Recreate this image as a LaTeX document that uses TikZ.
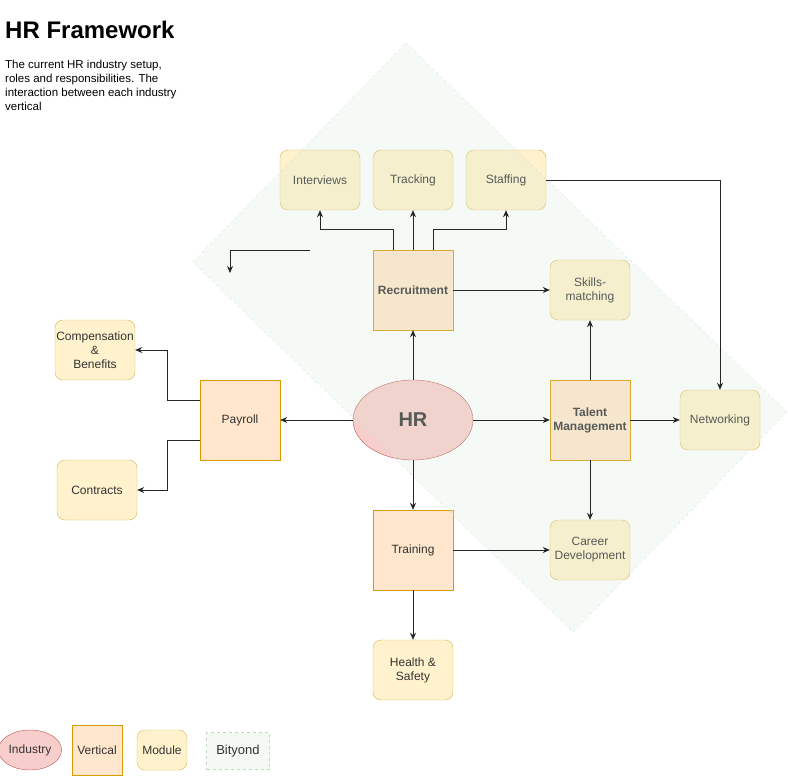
\documentclass[tikz,border=0pt]{standalone}
\usepackage{fontspec}
\setmainfont{Liberation Sans}
\usetikzlibrary{calc, shapes, positioning, arrows.meta}
\definecolor{industry fill}{HTML}{F8CECC}
\definecolor{industry line}{HTML}{B85450}
\definecolor{vertical fill}{HTML}{FFE6CC}
\definecolor{vertical line}{HTML}{D79B00}
\definecolor{module fill}{HTML}{FFF2CC}
\definecolor{module line}{HTML}{D6B656}
\definecolor{bityond fill}{HTML}{D5E8D4}
\definecolor{bityond line}{HTML}{C3DCC1}
\definecolor{text grey}{HTML}{333333}

\begin{document}
\begin{tikzpicture}[x=1pt, y=-1pt, font=\fontsize{12}{14}\selectfont,
    module/.style={draw=module line, fill=module fill, rounded corners=8pt, minimum width=80pt, minimum height=60pt, align=center, text=text grey, inner sep=1pt},
    vertical/.style={draw=vertical line, fill=vertical fill, minimum width=80pt, minimum height=80pt, align=center, text=text grey, inner sep=1pt},
    industry/.style={draw=industry line, fill=industry fill, ellipse, minimum width=120pt, minimum height=80pt, text=text grey, inner sep=1pt},
    link/.style={-{Stealth[length=7pt,width=6pt]}, line width=0.9pt, draw=black!85}]
    \useasboundingbox (0,0) rectangle (788,776);
    % title and description
    \node[anchor=west, inner sep=0pt, font=\fontsize{24}{28}\selectfont\bfseries] (title) at (5,30) {HR Framework};
    \node[anchor=north west, inner sep=0pt, align=left, font=\fontsize{11.5}{14}\selectfont] (desc) at (5,60) {The current HR industry setup,\\roles and responsibilities. The\\interaction between each industry\\vertical};
    % verticals and industry
    \node[industry, font=\fontsize{20}{24}\selectfont\bfseries] (hr) at (413,420) {HR};
    \node[vertical, font=\fontsize{12}{14}\selectfont\bfseries] (recruit) at (413,290) {Recruitment};
    \node[vertical] (payroll) at (240,420) {Payroll};
    \node[vertical, font=\fontsize{12}{14}\selectfont\bfseries] (talent) at (590,420) {Talent\\Management};
    \node[vertical] (training) at (413,550) {Training};
    % modules
    \node[module] (interviews) at (320,180) {Interviews};
    \node[module] (tracking) at (413,180) {Tracking};
    \node[module] (staffing) at (506,180) {Staffing};
    \node[module] (skills) at (590,290) {Skills-\\matching};
    \node[module] (comp) at (95,350) {Compensation\\\&\\Benefits};
    \node[module] (contracts) at (97,490) {Contracts};
    \node[module] (network) at (720,420) {Networking};
    \node[module] (career) at (590,550) {Career\\Development};
    \node[module] (health) at (413,670) {Health \&\\Safety};
    % bityond area
    \fill[bityond fill, fill opacity=0.22] (406,43) -- (787,412) -- (573,632) -- (193,262) -- cycle;
    \draw[bityond line, dashed, draw opacity=0.6] (406,43) -- (787,412) -- (573,632) -- (193,262) -- cycle;
    % connectors
    \draw[link] (hr) -- (recruit);
    \draw[link] (hr) -- (payroll);
    \draw[link] (hr) -- (talent);
    \draw[link] (hr) -- (training);
    \draw[link] ($(recruit.north)+(-20,0)$) -- ++(0,-20) -| (interviews.south);
    \draw[link] (recruit) -- (tracking);
    \draw[link] ($(recruit.north)+(20,0)$) -- ++(0,-20) -| (staffing.south);
    \draw[link] (recruit) -- (skills);
    \draw[link] (staffing.east) -| (network.north);
    \draw[link] ($(payroll.west)+(0,-20)$) -- ++(-32,0) |- (comp.east);
    \draw[link] ($(payroll.west)+(0,20)$) -- ++(-32,0) |- (contracts.east);
    \draw[link] (talent) -- (skills);
    \draw[link] (talent) -- (network);
    \draw[link] (talent) -- (career);
    \draw[link] (training) -- (career);
    \draw[link] (training) -- (health);
    \coordinate (loose start) at (310,250);
    \coordinate (loose end) at (230,273);
    \draw[link] (loose start) -| (loose end);
    % legend
    \node[industry, minimum width=54pt, minimum height=40pt] (key industry) at (30,750) {Industry};
    \node[vertical, minimum width=50pt, minimum height=50pt] (key vertical) at (97,750) {Vertical};
    \node[module, minimum width=50pt, minimum height=40pt] (key module) at (162,750) {Module};
    \node[draw=bityond line, fill=bityond fill!25!white, dashed, minimum width=63pt, minimum height=37pt, text=text grey, font=\fontsize{13}{15}\selectfont] (key bityond) at (238,751) {Bityond};
\end{tikzpicture}
\end{document}
